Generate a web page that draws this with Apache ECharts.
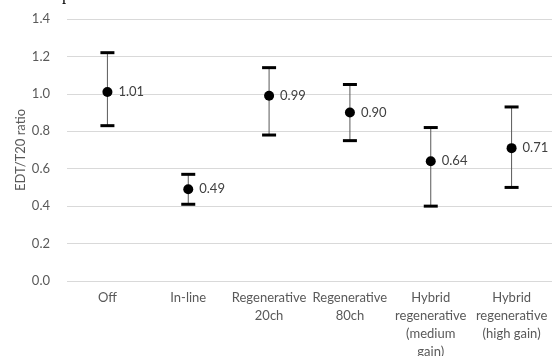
<!DOCTYPE html>
<html>
<head>
<meta charset="utf-8">
<script src="https://cdn.jsdelivr.net/npm/echarts@6/dist/echarts.min.js"></script>
<style>
  html, body { margin: 0; padding: 0; background: #fff; }
  #chart { width: 554px; height: 356px; }
</style>
</head>
<body>
<div id="chart"></div>
<script>
  const categories = [
    'Off',
    'In-line',
    'Regenerative\n20ch',
    'Regenerative\n80ch',
    'Hybrid\nregenerative\n(medium\ngain)',
    'Hybrid\nregenerative\n(high gain)',
  ];
  const means = [1.01, 0.49, 0.99, 0.90, 0.64, 0.71];
  const upper = [1.22, 0.57, 1.14, 1.05, 0.82, 0.93];
  const lower = [0.83, 0.41, 0.78, 0.75, 0.40, 0.50];

  const font = 'Lato, "Open Sans", sans-serif';
  const textColor = '#595959';

  const myChart = echarts.init(document.getElementById('chart'));

  const errData = categories.map((c, i) => [i, lower[i], upper[i]]);

  const options = {
    animation: false,
    grid: { left: 67, right: 2, top: 19, bottom: 75, outerBoundsMode: 'none', containLabel: false },
    graphic: [
      {
        // cut-off title glyph at the top edge
        type: 'text',
        left: 62,
        top: -13,
        style: { text: 'p', fontSize: 17, fontFamily: '"Liberation Serif", serif', fill: '#000' },
      },
    ],
    xAxis: {
      type: 'category',
      data: categories,
      boundaryGap: true,
      axisLine: { show: false },
      axisTick: { show: false },
      axisLabel: {
        color: textColor,
        fontFamily: font,
        fontSize: 13,
        lineHeight: 18,
        margin: 8,
        interval: 0,
        verticalAlign: 'top',
      },
    },
    yAxis: {
      type: 'value',
      min: 0,
      max: 1.4,
      interval: 0.2,
      name: 'EDT/T20 ratio',
      nameLocation: 'middle',
      nameGap: 40,
      nameMoveOverlap: false,
      nameTextStyle: { color: textColor, fontFamily: font, fontSize: 13 },
      axisLine: { show: false },
      axisTick: { show: false },
      axisLabel: {
        color: textColor,
        fontFamily: font,
        fontSize: 13,
        margin: 17,
        formatter: (v) => v.toFixed(1),
      },
      splitLine: { lineStyle: { color: '#d9d9d9', width: 1 } },
    },
    series: [
      {
        type: 'custom',
        data: errData,
        renderItem: (params, api) => {
          const x = api.value(0);
          const lo = api.coord([x, api.value(1)]);
          const hi = api.coord([x, api.value(2)]);
          const half = 7;
          return {
            type: 'group',
            children: [
              {
                type: 'line',
                shape: { x1: hi[0], y1: hi[1], x2: lo[0], y2: lo[1] },
                style: { stroke: '#595959', lineWidth: 1 },
              },
              {
                type: 'line',
                shape: { x1: hi[0] - half, y1: hi[1], x2: hi[0] + half, y2: hi[1] },
                style: { stroke: '#000', lineWidth: 3 },
              },
              {
                type: 'line',
                shape: { x1: lo[0] - half, y1: lo[1], x2: lo[0] + half, y2: lo[1] },
                style: { stroke: '#000', lineWidth: 3 },
              },
            ],
          };
        },
        z: 2,
      },
      {
        type: 'scatter',
        data: means,
        symbol: 'circle',
        symbolSize: 10,
        itemStyle: { color: '#000', opacity: 1 },
        label: {
          show: true,
          position: 'right',
          distance: 6,
          color: '#404040',
          fontFamily: font,
          fontSize: 13,
          formatter: (p) => p.value.toFixed(2),
        },
        z: 3,
      },
    ],
  };
  myChart.setOption(options);
</script>
</body>
</html>
